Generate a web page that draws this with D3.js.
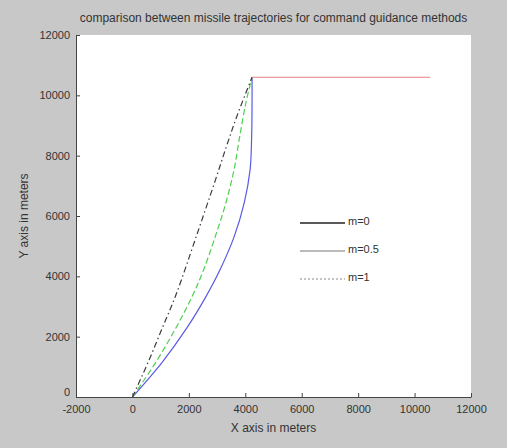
<!DOCTYPE html>
<html>
<head>
<meta charset="utf-8">
<script src="https://cdn.jsdelivr.net/npm/d3@7"></script>
<style>
  body { margin: 0; background: #c8c8c8; }
  svg { display: block; font-family: "Liberation Sans", Arial, sans-serif; }
</style>
</head>
<body>
<svg id="chart" width="507" height="448"></svg>
<script>
// trajectories (meters)
const m0X = [0, 1060, 1930, 2600, 3100, 3600, 3960, 4170, 4225, 4240, 4240];
const m0Y = [0, 1160, 2290, 3320, 4210, 5300, 6430, 7530, 8620, 9750, 10600];

const m05X = [0, 835, 1540, 2110, 2520, 2930, 3310, 3600, 3800, 4020, 4240];
const m05Y = [0, 1160, 2290, 3320, 4210, 5300, 6430, 7530, 8620, 9750, 10600];

const m1X = [0, 560, 1060, 1540, 2280, 2940, 3330, 3700, 4240];
const m1Y = [0, 1160, 2290, 3380, 5370, 7190, 8300, 9300, 10600];

// target flight path
const targetX = [4240, 10550];
const targetY = [10600, 10600];

const xTicks = [-2000, 0, 2000, 4000, 6000, 8000, 10000, 12000];
const yTicks = [0, 2000, 4000, 6000, 8000, 10000, 12000];
const legendLabels = ['m=0', 'm=0.5', 'm=1'];

const svg = d3.select('#chart');
const margin = { left: 76, right: 36, top: 35, bottom: 51 };
const width = +svg.attr('width');
const height = +svg.attr('height');

const x = d3.scaleLinear().domain([-2000, 12000]).range([margin.left, width - margin.right]);
const y = d3.scaleLinear().domain([0, 12000]).range([height - margin.bottom, margin.top]);

// figure + axes background
svg.append('rect').attr('width', width).attr('height', height).attr('fill', '#c8c8c8');
svg.append('rect')
  .attr('x', x(-2000)).attr('y', y(12000))
  .attr('width', x(12000) - x(-2000)).attr('height', y(0) - y(12000))
  .attr('fill', '#ffffff');

// axes, ticks pointing inward
const xAxis = svg.append('g')
  .attr('transform', `translate(0,${y(0)})`)
  .call(d3.axisBottom(x).tickValues(xTicks).tickFormat(d => String(d))
    .tickSizeInner(-4).tickSizeOuter(0).tickPadding(8));
const yAxis = svg.append('g')
  .attr('transform', `translate(${x(-2000)},0)`)
  .call(d3.axisLeft(y).tickValues(yTicks).tickFormat(d => String(d))
    .tickSizeInner(-4).tickSizeOuter(0).tickPadding(6));

[xAxis, yAxis].forEach(a => {
  a.select('.domain').attr('stroke', '#444');
  a.selectAll('.tick line').attr('stroke', '#444');
  a.selectAll('.tick text').attr('fill', '#333').style('font-size', '11px');
});
// lift the y "0" a little so it clears the -2000 below it
yAxis.selectAll('.tick text').filter(d => d === 0).attr('dy', '-0.1em');

const line = d3.line()
  .x(d => x(d[0]))
  .y(d => y(d[1]))
  .curve(d3.curveCatmullRom.alpha(0.5));

const series = [
  { xs: m0X, ys: m0Y, color: '#5a5ae6', dash: null },
  { xs: m05X, ys: m05Y, color: '#4fcf4f', dash: '6,3' },
  { xs: m1X, ys: m1Y, color: '#3c3c3c', dash: '6,3,1.5,3' },
  { xs: targetX, ys: targetY, color: '#e88080', dash: null }
];

svg.append('g')
  .selectAll('path')
  .data(series)
  .enter()
  .append('path')
  .attr('d', d => line(d.xs.map((v, i) => [v, d.ys[i]])))
  .attr('fill', 'none')
  .attr('stroke', d => d.color)
  .attr('stroke-width', 1.2)
  .attr('stroke-dasharray', d => d.dash);

// legend (no box)
const legendStyles = [
  { color: '#222', width: 1.4, dash: null },
  { color: '#777', width: 1, dash: null },
  { color: '#888', width: 1, dash: '2,2' }
];
const legend = svg.append('g');
legendLabels.forEach((lab, i) => {
  const ly = 223 + i * 28;
  legend.append('line')
    .attr('x1', 300).attr('x2', 345)
    .attr('y1', ly).attr('y2', ly)
    .attr('stroke', legendStyles[i].color)
    .attr('stroke-width', legendStyles[i].width)
    .attr('stroke-dasharray', legendStyles[i].dash);
  legend.append('text')
    .attr('x', 348).attr('y', ly - 2)
    .attr('dy', '0.35em')
    .attr('fill', '#333')
    .style('font-size', '11px')
    .text(lab);
});

// title and axis labels
svg.append('text')
  .attr('x', (x(-2000) + x(12000)) / 2).attr('y', 22)
  .attr('text-anchor', 'middle')
  .attr('fill', '#333')
  .style('font-size', '12px')
  .text('comparison between missile trajectories for command guidance methods');

svg.append('text')
  .attr('x', (x(-2000) + x(12000)) / 2).attr('y', 432)
  .attr('text-anchor', 'middle')
  .attr('fill', '#333')
  .style('font-size', '12px')
  .text('X axis in meters');

svg.append('text')
  .attr('transform', `translate(28,${(y(0) + y(12000)) / 2}) rotate(-90)`)
  .attr('text-anchor', 'middle')
  .attr('fill', '#333')
  .style('font-size', '12px')
  .text('Y axis in meters');
</script>
</body>
</html>
